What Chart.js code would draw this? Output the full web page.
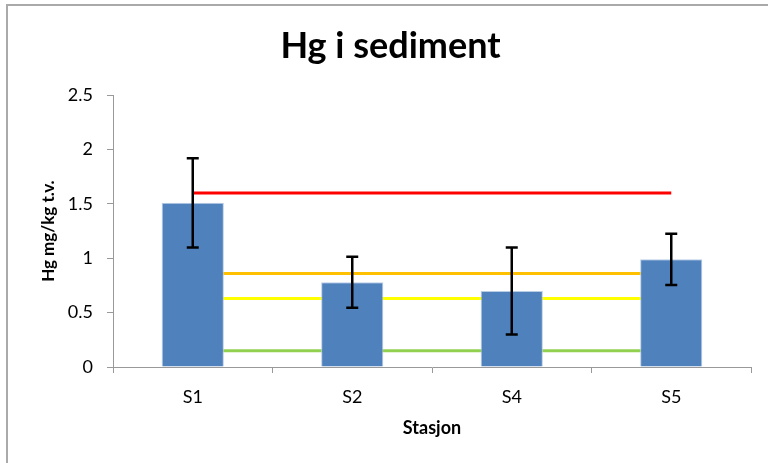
<!DOCTYPE html>
<html>
<head>
<meta charset="utf-8">
<title>Hg i sediment</title>
<script src="https://cdn.jsdelivr.net/npm/chart.js@4"></script>
<style>
  body { margin: 0; background: #fff; }
  #wrap { position: relative; width: 768px; height: 463px; overflow: hidden; }
  #frame {
    position: absolute; left: 6px; top: 4px; width: 800px; height: 500px;
    border-top: 2px solid #aaaaaa; border-left: 2px solid #aaaaaa;
  }
  canvas { position: absolute; left: 0; top: 0; }
</style>
</head>
<body>
<div id="wrap">
  <div id="frame"></div>
  <canvas id="chart" width="768" height="463"></canvas>
</div>
<script>
// data
const stations = ['S1', 'S2', 'S4', 'S5'];
const hgValues = [1.51, 0.78, 0.70, 0.99];
const hgErrors = [0.41, 0.235, 0.40, 0.235];
// class limits drawn as lines across the stations
const limitGreen = 0.15;
const limitYellow = 0.63;
const limitOrange = 0.86;
const limitRed = 1.6;
const yTicks = [0, 0.5, 1, 1.5, 2, 2.5];

const fontName = 'Lato';

function limitLine(value, color, order) {
  return {
    type: 'line',
    data: stations.map(() => value),
    borderColor: color,
    borderWidth: 3,
    pointRadius: 0,
    fill: false,
    order: order
  };
}

// error bars drawn after the datasets, through the scales
const errorBars = {
  id: 'errorBars',
  afterDatasetsDraw(chart) {
    const ctx = chart.ctx;
    const x = chart.scales.x;
    const y = chart.scales.y;
    ctx.save();
    ctx.strokeStyle = '#000';
    ctx.lineWidth = 2.5;
    hgValues.forEach((v, i) => {
      const px = x.getPixelForValue(i);
      const top = y.getPixelForValue(v + hgErrors[i]);
      const bottom = y.getPixelForValue(v - hgErrors[i]);
      ctx.beginPath();
      ctx.moveTo(px, top);
      ctx.lineTo(px, bottom);
      ctx.moveTo(px - 6, top);
      ctx.lineTo(px + 6, top);
      ctx.moveTo(px - 6, bottom);
      ctx.lineTo(px + 6, bottom);
      ctx.stroke();
    });
    ctx.restore();
  }
};

const ctx = document.getElementById('chart').getContext('2d');
const chart = new Chart(ctx, {
  type: 'bar',
  data: {
    labels: stations,
    datasets: [
      limitLine(limitRed, '#ff0000', 0),
      {
        type: 'bar',
        data: hgValues,
        backgroundColor: '#4f81bd',
        borderColor: '#b9cde5',
        borderWidth: 1,
        barPercentage: 0.39,
        categoryPercentage: 1,
        order: 1
      },
      limitLine(limitOrange, '#ffc000', 2),
      limitLine(limitYellow, '#ffff00', 2),
      limitLine(limitGreen, '#92d050', 2)
    ]
  },
  options: {
    responsive: false,
    animation: false,
    layout: { padding: { left: 30, right: 17, top: 0, bottom: 0 } },
    plugins: {
      legend: { display: false },
      tooltip: { enabled: false },
      title: {
        display: true,
        text: 'Hg i sediment',
        color: '#000',
        font: { family: fontName, size: 36, weight: 'bold' },
        padding: { top: 25, bottom: 27 }
      }
    },
    scales: {
      x: {
        offset: true,
        grid: {
          offset: true,
          drawOnChartArea: false,
          drawTicks: true,
          tickLength: 6,
          color: '#999'
        },
        border: { color: '#999', width: 1 },
        ticks: {
          color: '#000',
          padding: 13,
          font: { family: fontName, size: 18 }
        },
        title: {
          display: true,
          text: 'Stasjon',
          color: '#000',
          font: { family: fontName, size: 18, weight: 'bold' },
          padding: { top: 0, bottom: 24 }
        },
        afterFit: s => { s.height = 96; }
      },
      y: {
        min: 0,
        max: 2.5,
        afterBuildTicks: s => { s.ticks = yTicks.map(v => ({ value: v })); },
        grid: {
          drawOnChartArea: false,
          drawTicks: true,
          tickLength: 6,
          color: '#999'
        },
        border: { color: '#999', width: 1 },
        ticks: {
          color: '#000',
          padding: 14,
          font: { family: fontName, size: 18 },
          callback: v => String(v)
        },
        title: {
          display: true,
          text: 'Hg mg/kg t.v.',
          color: '#000',
          font: { family: fontName, size: 17, weight: 'bold' },
          padding: { top: 8, bottom: 0 }
        },
        afterFit: s => { s.width = 83; }
      }
    }
  },
  plugins: [errorBars]
});
</script>
</body>
</html>
